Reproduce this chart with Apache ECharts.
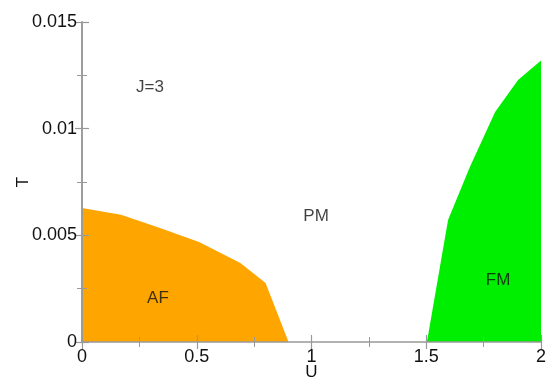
<!DOCTYPE html>
<html>
<head>
<meta charset="utf-8">
<script src="https://cdn.jsdelivr.net/npm/echarts@6/dist/echarts.min.js"></script>
<style>
  html, body { margin: 0; padding: 0; background: #fff; }
  #main { width: 550px; height: 380px; }
</style>
</head>
<body>
<div id="main"></div>
<script>
// phase boundaries (U, T)
var afBoundary = [[0, 0.00628], [0.17, 0.00596], [0.34, 0.00534], [0.51, 0.00469], [0.69, 0.0037], [0.8, 0.00277], [0.9, 0]];
var fmBoundary = [[1.503, 0], [1.595, 0.00572], [1.69, 0.0082], [1.8, 0.01078], [1.9, 0.01228], [2, 0.0132]];
// region names and where they sit (U, T)
var regionLabels = [['J=3', 0.296, 0.01195], ['PM', 1.02, 0.0059], ['AF', 0.331, 0.00206], ['FM', 1.813, 0.00291]];

var font = 'Liberation Sans, Arial, sans-serif';
var axisGrey = '#999';
var textCol = '#111';

var chart = echarts.init(document.getElementById('main'), null, {renderer: 'canvas'});

var tickIn = { show: true, inside: true, length: 7, lineStyle: { color: axisGrey, width: 1.2 } };
var minorIn = { show: true, splitNumber: 2, length: 5, lineStyle: { color: axisGrey, width: 1 } };

var option = {
  animation: false,
  grid: { left: 82, right: 9, top: 22, bottom: 38, containLabel: false, outerBoundsMode: 'none' },
  xAxis: [
    {
      type: 'value', min: 0, max: 2, interval: 0.5, zlevel: 1,
      name: 'U', nameLocation: 'middle', nameGap: 22, nameMoveOverlap: false,
      nameTextStyle: { fontFamily: font, fontSize: 17, color: textCol },
      axisLine: { show: true, lineStyle: { color: axisGrey, width: 1.5 } },
      axisTick: tickIn, minorTick: minorIn,
      axisLabel: { fontFamily: font, fontSize: 18, color: textCol, margin: 6,
        formatter: function (v) { return String(v); } },
      splitLine: { show: false }
    },
    {
      type: 'value', min: 0, max: 2, interval: 0.5, position: 'top', zlevel: 1,
      axisLine: { show: false },
      axisTick: tickIn, minorTick: minorIn,
      axisLabel: { show: false }, splitLine: { show: false }
    }
  ],
  yAxis: [
    {
      type: 'value', min: 0, max: 0.015, interval: 0.005, zlevel: 1,
      name: 'T', nameLocation: 'middle', nameGap: 50, nameRotate: 90, nameMoveOverlap: false,
      nameTextStyle: { fontFamily: font, fontSize: 17, color: textCol },
      axisLine: { show: true, lineStyle: { color: axisGrey, width: 1.5 } },
      axisTick: tickIn, minorTick: minorIn,
      axisLabel: { fontFamily: font, fontSize: 18, color: textCol, margin: 5,
        formatter: function (v) { return String(+v.toFixed(3)); } },
      splitLine: { show: false }
    },
    {
      type: 'value', min: 0, max: 0.015, interval: 0.005, position: 'right', zlevel: 1,
      axisLine: { show: true, lineStyle: { color: axisGrey, width: 1.5 } },
      axisTick: tickIn, minorTick: minorIn,
      axisLabel: { show: false }, splitLine: { show: false }
    }
  ],
  series: [
    {
      name: 'AF', type: 'line', data: afBoundary, symbol: 'none',
      lineStyle: { width: 0 }, areaStyle: { color: '#ffa500', opacity: 1 }
    },
    {
      name: 'FM', type: 'line', data: fmBoundary, symbol: 'none',
      lineStyle: { width: 0 }, areaStyle: { color: '#00ee00', opacity: 1 }
    },
    {
      name: 'labels', type: 'scatter', symbolSize: 0, zlevel: 1,
      data: regionLabels.map(function (r) { return { name: r[0], value: [r[1], r[2]] }; }),
      label: { show: true, position: 'inside', formatter: '{b}',
        fontFamily: font, fontSize: 17, color: textCol }
    }
  ]
};

chart.setOption(option);
</script>
</body>
</html>
